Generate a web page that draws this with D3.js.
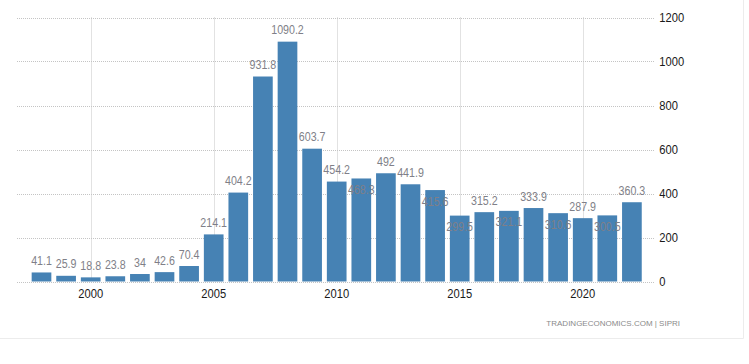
<!DOCTYPE html>
<html>
<head>
<meta charset="utf-8">
<script src="https://cdn.jsdelivr.net/npm/d3@7"></script>
<style>
  html, body { margin: 0; padding: 0; background: #fff; }
  svg { display: block; }
</style>
</head>
<body>
<svg id="chart" width="749" height="364"></svg>
<script>
const years = [1998,1999,2000,2001,2002,2003,2004,2005,2006,2007,2008,2009,2010,2011,2012,2013,2014,2015,2016,2017,2018,2019,2020,2021,2022];
const values = [41.1,25.9,18.8,23.8,34,42.6,70.4,214.1,404.2,931.8,1090.2,603.7,454.2,468.3,492,441.9,415.6,299.5,315.2,321.1,333.9,310.6,287.9,300.5,360.3];
const yTicks = [0,200,400,600,800,1000,1200];
const xTicks = [2000,2005,2010,2015,2020];
const sourceText = "TRADINGECONOMICS.COM | SIPRI";

const FONT = "'Liberation Sans', Arial, sans-serif";
const AXIS_NARROW = 0.86;
const LABEL_NARROW = 0.79;

const svg = d3.select("#chart");
const plot = {left: 17, right: 655, top: 17.5, bottom: 281.5};

const x = d3.scaleBand().domain(years).range([29.2, 644.2]).paddingInner(0.2).paddingOuter(0.1);
const y = d3.scaleLinear().domain([0, 1200]).range([plot.bottom, plot.top]);

// frame
svg.append("line").attr("x1", 0).attr("x2", 743.5).attr("y1", 338.5).attr("y2", 338.5).attr("stroke", "#ececec");
svg.append("line").attr("x1", 743.5).attr("x2", 743.5).attr("y1", 0).attr("y2", 338.5).attr("stroke", "#ececec");

// horizontal grid + right axis
svg.append("g").selectAll("line").data(yTicks).join("line")
  .attr("x1", plot.left).attr("x2", plot.right)
  .attr("y1", d => Math.round(y(d)) + 0.5).attr("y2", d => Math.round(y(d)) + 0.5)
  .attr("stroke", "#c4c4c4").attr("stroke-dasharray", "1,1");
const yAxis = d3.axisRight(y).tickValues(yTicks).tickFormat(d3.format("d")).tickSize(0).tickPadding(5);
const yg = svg.append("g").attr("transform", `translate(${plot.right},0)`).call(yAxis);
yg.select(".domain").remove();
yg.selectAll("text").attr("font-family", FONT).attr("font-size", 13).attr("fill", "#1a1a1a")
  .attr("transform", `scale(${AXIS_NARROW},1)`);

// vertical grid + bottom axis
svg.append("g").selectAll("line").data(xTicks).join("line")
  .attr("x1", d => Math.round(x(d) + x.bandwidth() / 2) + 0.5)
  .attr("x2", d => Math.round(x(d) + x.bandwidth() / 2) + 0.5)
  .attr("y1", plot.top).attr("y2", plot.bottom)
  .attr("stroke", "#c4c4c4").attr("stroke-dasharray", "1,1");
const xAxis = d3.axisBottom(x).tickValues(xTicks).tickSize(0).tickPadding(7);
const xg = svg.append("g").attr("transform", `translate(0,${plot.bottom})`).call(xAxis);
xg.select(".domain").remove();
xg.selectAll("text").attr("font-family", FONT).attr("font-size", 13).attr("fill", "#1a1a1a")
  .attr("transform", `scale(${AXIS_NARROW},1)`);

// bars
svg.append("g").selectAll("rect").data(years).join("rect")
  .attr("x", d => x(d))
  .attr("width", x.bandwidth())
  .attr("y", (d, i) => y(values[i]))
  .attr("height", (d, i) => plot.bottom - y(values[i]))
  .attr("fill", "#4682b4");

// data labels: above the bar, or just inside it when it would collide with the previous label
const lg = svg.append("g");
let prev = null;
years.forEach((yr, i) => {
  const cx = x(yr) + x.bandwidth() / 2;
  const top = y(values[i]);
  const g = lg.append("g");
  g.append("text")
    .attr("x", 0).attr("y", 0).attr("text-anchor", "middle")
    .attr("font-family", FONT).attr("font-size", 13.5).attr("fill", "#7f7f88")
    .text(values[i]);
  g.attr("transform", `translate(${cx},${top - 7.5}) scale(${LABEL_NARROW},1)`);
  let b = g.node().getBoundingClientRect();
  if (prev && b.left < prev.right && b.right > prev.left &&
      b.top < prev.bottom && b.bottom > prev.top) {
    g.attr("transform", `translate(${cx},${top + 15.5}) scale(${LABEL_NARROW},1)`);
    b = g.node().getBoundingClientRect();
  }
  prev = {left: b.left, right: b.right, top: b.top, bottom: b.bottom};
});

// source
svg.append("text").attr("x", 680).attr("y", 326).attr("text-anchor", "end")
  .attr("font-family", FONT).attr("font-size", 8)
  .attr("fill", "#8a8a8a").text(sourceText);
</script>
</body>
</html>
